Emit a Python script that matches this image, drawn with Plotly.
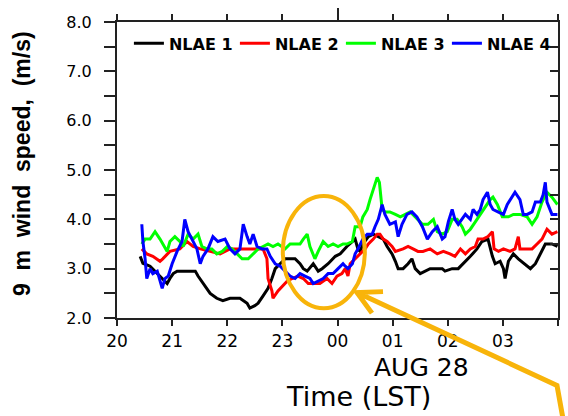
import plotly.graph_objects as go

# Time in hours after 20:00 LST (Aug 27) ; 4 = 00 LST Aug 28
tick_vals = [0, 1, 2, 3, 4, 5, 6, 7, 8]
tick_text = ["20", "21", "22", "23", "00", "01", "02", "03", "04"]
y_tick_vals = [2, 3, 4, 5, 6, 7, 8]
y_tick_text = ["2.0", "3.0", "4.0", "5.0", "6.0", "7.0", "8.0"]

t_nlae1 = [.42, .47, .60, .69, .83, .91, .96, 1.02, 1.09, 1.23,
           1.42, 1.47, 1.56, 1.69, 1.81, 1.92, 2.05, 2.23, 2.36, 2.41,
           2.50, 2.56, 2.65, 2.74, 2.81, 2.87, 2.96, 3.05, 3.23, 3.32,
           3.38, 3.45, 3.56, 3.65, 3.72, 3.83, 3.96, 4.05, 4.17, 4.27,
           4.32, 4.37, 4.41, 4.46, 4.56, 4.65, 4.74, 4.83, 4.90, 4.99,
           5.05, 5.10, 5.19, 5.28, 5.35, 5.41, 5.50, 5.59, 5.68, 5.81,
           5.90, 5.95, 6.08, 6.19, 6.28, 6.41, 6.53, 6.62, 6.73, 6.81,
           6.86, 6.95, 7.01, 7.04, 7.10, 7.19, 7.28, 7.40, 7.50, 7.59,
           7.68, 7.77, 7.89, 7.99]
v_nlae1 = [3.25, 3.11, 3.05, 2.95, 2.8, 2.7, 2.8, 2.9, 2.95, 2.95,
           2.95, 2.85, 2.7, 2.5, 2.4, 2.35, 2.4, 2.4, 2.3, 2.2,
           2.25, 2.3, 2.45, 2.6, 2.8, 3.0, 3.1, 3.2, 3.2, 3.1,
           3.0, 2.95, 3.1, 2.95, 3.0, 3.1, 3.25, 3.3, 3.45, 3.55,
           3.6, 3.4, 3.35, 3.5, 3.65, 3.7, 3.65, 3.6, 3.45, 3.3,
           3.15, 3.0, 3.0, 3.1, 3.2, 3.0, 2.9, 2.95, 3.0, 3.0,
           3.0, 2.95, 3.0, 3.0, 3.1, 3.25, 3.4, 3.55, 3.6, 3.25,
           3.1, 3.15, 3.0, 2.8, 3.15, 3.3, 3.2, 3.1, 3.0, 3.1,
           3.3, 3.5, 3.5, 3.45]

t_nlae2 = [.45, .54, .65, .78, .83, .96, 1.14, 1.27, 1.38, 1.51,
           1.69, 1.87, 2.05, 2.23, 2.32, 2.50, 2.65, 2.72, 2.74, 2.81,
           2.83, 2.92, 3.01, 3.09, 3.18, 3.28, 3.38, 3.47, 3.59, 3.68,
           3.81, 3.90, 3.99, 4.08, 4.14, 4.19, 4.23, 4.32, 4.41, 4.50,
           4.56, 4.65, 4.72, 4.77, 4.83, 4.90, 4.99, 5.05, 5.19, 5.28,
           5.37, 5.46, 5.55, 5.68, 5.81, 5.92, 6.04, 6.13, 6.23, 6.32,
           6.41, 6.50, 6.55, 6.64, 6.73, 6.81, 6.84, 6.92, 7.01, 7.13,
           7.22, 7.28, 7.31, 7.40, 7.53, 7.62, 7.71, 7.80, 7.89, 7.99]
v_nlae2 = [3.4, 3.3, 3.25, 3.15, 3.2, 3.35, 3.4, 3.55, 3.45, 3.4,
           3.35, 3.3, 3.4, 3.4, 3.4, 3.4, 3.4, 3.2, 2.8, 2.55,
           2.4, 2.55, 2.65, 2.75, 2.8, 2.85, 2.8, 2.7, 2.7, 2.7,
           2.8, 2.7, 2.85, 2.9, 3.0, 2.85, 3.1, 3.2, 3.3, 3.4,
           3.5, 3.6, 3.7, 3.7, 3.6, 3.55, 3.45, 3.35, 3.4, 3.45,
           3.4, 3.35, 3.35, 3.4, 3.3, 3.35, 3.3, 3.25, 3.4, 3.3,
           3.4, 3.45, 3.6, 3.6, 3.65, 3.75, 3.4, 3.35, 3.4, 3.35,
           3.4, 3.65, 3.4, 3.4, 3.4, 3.5, 3.6, 3.8, 3.7, 3.75]

t_nlae3 = [.45, .51, .60, .69, .78, .83, .91, .96, 1.05, 1.14,
           1.20, 1.29, 1.38, 1.47, 1.54, 1.63, 1.72, 1.81, 1.91, 2.00,
           2.09, 2.18, 2.27, 2.38, 2.47, 2.56, 2.65, 2.74, 2.83, 2.92,
           3.05, 3.14, 3.23, 3.32, 3.38, 3.45, 3.50, 3.59, 3.65, 3.74,
           3.83, 3.92, 4.01, 4.10, 4.17, 4.27, 4.32, 4.41, 4.46, 4.54,
           4.59, 4.65, 4.72, 4.76, 4.81, 4.86, 4.95, 5.05, 5.14, 5.23,
           5.32, 5.41, 5.54, 5.64, 5.74, 5.81, 5.90, 5.99, 6.08, 6.17,
           6.26, 6.32, 6.41, 6.50, 6.59, 6.68, 6.77, 6.82, 6.90, 6.99,
           7.10, 7.19, 7.31, 7.44, 7.53, 7.62, 7.71, 7.80, 7.89, 7.99]
v_nlae3 = [3.5, 3.6, 3.6, 3.75, 3.6, 3.5, 3.35, 3.55, 3.65, 3.55,
           3.45, 3.7, 3.6, 3.7, 3.45, 3.4, 3.4, 3.3, 3.35, 3.45,
           3.4, 3.3, 3.2, 3.2, 3.3, 3.4, 3.45, 3.5, 3.45, 3.5,
           3.4, 3.5, 3.5, 3.5, 3.6, 3.7, 3.45, 3.2, 3.35, 3.55,
           3.45, 3.5, 3.45, 3.5, 3.5, 3.55, 3.85, 3.85, 4.05, 4.2,
           4.4, 4.6, 4.85, 4.75, 4.2, 4.15, 4.15, 4.1, 4.05, 4.1,
           4.15, 4.05, 3.9, 3.9, 4.0, 3.75, 3.7, 3.75, 4.0, 4.0,
           3.85, 3.7, 3.8, 3.95, 4.1, 4.25, 4.4, 4.45, 4.3, 4.05,
           4.05, 4.1, 4.1, 4.05, 3.9, 4.05, 4.35, 4.55, 4.45, 4.3]

t_nlae4 = [.45, .47, .51, .54, .60, .65, .73, .78, .82, .87,
           .93, 1.00, 1.09, 1.18, 1.23, 1.29, 1.36, 1.45, 1.51, 1.56,
           1.65, 1.74, 1.83, 1.96, 2.05, 2.14, 2.23, 2.29, 2.36, 2.41,
           2.47, 2.54, 2.63, 2.72, 2.78, 2.87, 2.96, 3.05, 3.14, 3.23,
           3.32, 3.41, 3.50, 3.56, 3.65, 3.74, 3.83, 3.92, 4.01, 4.10,
           4.14, 4.19, 4.27, 4.32, 4.37, 4.46, 4.54, 4.63, 4.68, 4.74,
           4.81, 4.86, 4.95, 5.05, 5.10, 5.17, 5.26, 5.35, 5.44, 5.54,
           5.63, 5.72, 5.81, 5.90, 5.95, 6.01, 6.08, 6.13, 6.19, 6.26,
           6.32, 6.41, 6.46, 6.53, 6.59, 6.64, 6.72, 6.77, 6.82, 6.91,
           7.01, 7.08, 7.17, 7.22, 7.31, 7.37, 7.44, 7.53, 7.59, 7.68,
           7.73, 7.77, 7.80, 7.89, 7.99]
v_nlae4 = [3.9, 3.55, 3.2, 2.8, 3.0, 2.9, 2.95, 2.75, 2.6, 2.8,
           2.85, 3.1, 3.35, 3.55, 4.0, 3.75, 3.6, 3.4, 3.1, 3.25,
           3.4, 3.65, 3.55, 3.6, 3.4, 3.3, 3.4, 3.9, 3.65, 3.5,
           3.7, 3.45, 3.4, 3.4, 3.25, 3.1, 3.05, 2.95, 2.85, 2.8,
           2.9, 2.85, 2.8, 2.7, 2.75, 2.8, 2.9, 2.9, 3.0, 3.1,
           3.05, 3.0, 3.1, 3.3, 3.4, 3.6, 3.7, 3.7, 3.85, 4.0,
           4.3, 4.1, 3.9, 3.95, 3.65, 3.9, 4.1, 4.15, 4.05, 3.85,
           3.6, 3.75, 3.85, 3.6, 3.65, 3.95, 4.2, 4.0, 3.9, 4.0,
           4.1, 4.0, 4.2, 4.1, 4.2, 4.4, 4.55, 4.3, 4.2, 4.15,
           4.1, 4.3, 4.45, 4.55, 4.4, 4.1, 4.1, 4.15, 4.35, 4.35,
           4.5, 4.75, 4.35, 4.1, 4.1]

series = [
    ("NLAE 1", t_nlae1, v_nlae1, "#000000"),
    ("NLAE 2", t_nlae2, v_nlae2, "#ff0000"),
    ("NLAE 3", t_nlae3, v_nlae3, "#00ff00"),
    ("NLAE 4", t_nlae4, v_nlae4, "#0000ff"),
]

fig = go.Figure()
for name, t, v, c in series:
    fig.add_trace(go.Scatter(x=t, y=v, mode="lines", name=name,
                             line=dict(color=c, width=3)))

# invisible trace to activate mirrored (top/right) axes
fig.add_trace(go.Scatter(x=[0], y=[2], xaxis="x2", yaxis="y2", mode="lines",
                         line=dict(width=0), showlegend=False, hoverinfo="skip"))

axis_col = "#222222"
ORANGE = "#f8b40a"
NB = "\u00a0"

fig.update_layout(
    width=568, height=416,
    margin=dict(l=117, r=10, t=15, b=98),
    paper_bgcolor="white", plot_bgcolor="white",
    showlegend=True,
    legend=dict(orientation="h", x=0.027, y=0.985, xanchor="left", yanchor="top",
                font=dict(family="DejaVu Sans", size=16, color="#000000", weight="bold"),
                bgcolor="rgba(0,0,0,0)", itemwidth=30, entrywidth=61,
                entrywidthmode="pixels", tracegroupgap=0),
    xaxis=dict(range=[0, 8], tickvals=tick_vals, ticktext=tick_text,
               ticks="outside", ticklen=6, tickwidth=2, tickcolor=axis_col,
               showline=True, linecolor=axis_col, linewidth=2,
               showgrid=False, zeroline=False,
               tickfont=dict(family="DejaVu Sans", size=17, color="#000000"),
               ticklabelstandoff=1),
    xaxis2=dict(range=[0, 8], overlaying="x", side="top", tickvals=[4],
                ticks="outside", ticklen=12, tickwidth=2, tickcolor=axis_col,
                minor=dict(tickvals=[0, 1, 2, 3, 5, 6, 7, 8], ticks="outside",
                           ticklen=6, tickwidth=2, tickcolor=axis_col, showgrid=False),
                showticklabels=False, showline=True, linecolor=axis_col, linewidth=2,
                showgrid=False, zeroline=False),
    yaxis=dict(range=[2, 8], tickvals=y_tick_vals, ticktext=y_tick_text,
               ticks="outside", ticklen=11, tickwidth=2, tickcolor=axis_col,
               minor=dict(tickvals=[2.5, 3.5, 4.5, 5.5, 6.5, 7.5], ticks="outside",
                          ticklen=11, tickwidth=2, tickcolor=axis_col, showgrid=False),
               showline=True, linecolor=axis_col, linewidth=2,
               showgrid=False, zeroline=False,
               tickfont=dict(family="DejaVu Sans", size=16, color="#000000"),
               ticklabelstandoff=9),
    yaxis2=dict(range=[2, 8], overlaying="y", side="right",
                tickvals=[2, 2.5, 3, 3.5, 4, 4.5, 5, 5.5, 6, 6.5, 7, 7.5, 8],
                ticks="inside", ticklen=8, tickwidth=2, tickcolor=axis_col,
                showticklabels=False, showline=True, linecolor=axis_col, linewidth=2,
                showgrid=False, zeroline=False),
    annotations=[
        dict(text="AUG 28", xref="paper", yref="paper", x=0.69, y=-0.168,
             xanchor="center", yanchor="middle", showarrow=False,
             font=dict(family="DejaVu Sans", size=25, color="#000000")),
        dict(text="Time (LST)", xref="paper", yref="paper", x=0.548, y=-0.266,
             xanchor="center", yanchor="middle", showarrow=False,
             font=dict(family="DejaVu Sans", size=27, color="#000000")),
        dict(text="9" + NB + " m" + NB + " wind" + NB + " speed," + NB + " (m/s)",
             xref="paper", yref="paper",
             x=-0.215, y=0.521, xanchor="center", yanchor="middle",
             textangle=-90, showarrow=False,
             font=dict(family="Liberation Sans", size=23, color="#000000", weight="bold")),
    ],
    shapes=[
        dict(type="circle", xref="paper", yref="paper",
             x0=0.376, x1=0.562, y0=0.033, y1=0.4125,
             line=dict(color=ORANGE, width=4)),
        dict(type="path", xref="paper", yref="paper",
             path="M 0.6032,0.0891 L 0.5442,0.0858 L 0.5782,0.0165 "
                  "M 0.5442,0.0858 L 0.9977,-0.2277 L 1.0113,-0.3400",
             line=dict(color=ORANGE, width=5)),
    ],
)

fig.write_html("out.html")
